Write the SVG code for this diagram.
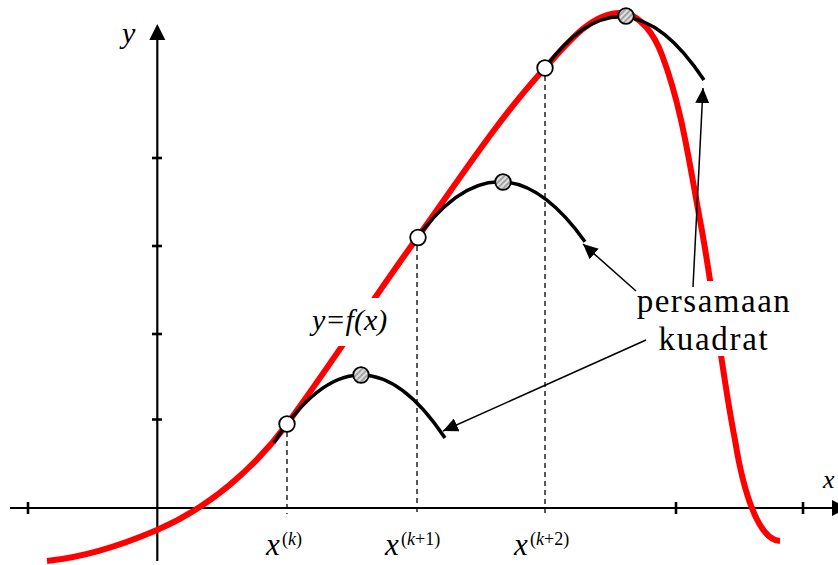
<svg xmlns="http://www.w3.org/2000/svg" width="838" height="565" viewBox="0 0 838 565">
<style>
.axis{stroke:#000;stroke-width:2.2;fill:none}
.tick{stroke:#000;stroke-width:2.6}
.dash{stroke:#000;stroke-width:1.3;stroke-dasharray:5,4;fill:none}
.fx{stroke:#ff0000;stroke-width:6;fill:none}
.quad{stroke:#000;stroke-width:3.5;fill:none}
.open{fill:#fff;stroke:#000;stroke-width:1.8}
.hatch{fill:url(#hp);stroke:#000;stroke-width:1.8}
.lead{stroke:#000;stroke-width:1.5;fill:none;marker-end:url(#ah)}
.lbl{font-family:"Liberation Serif","Times New Roman",serif;fill:#000}
.it{font-style:italic}
</style>
<defs>
<pattern id="hp" width="4" height="4" patternUnits="userSpaceOnUse" patternTransform="rotate(-45)">
<rect width="4" height="4" fill="#e0e0e0"/>
<line x1="0" y1="1" x2="4" y2="1" stroke="#808080" stroke-width="1.3"/>
</pattern>
<marker id="ah" markerUnits="userSpaceOnUse" markerWidth="16" markerHeight="14" refX="15" refY="7" orient="auto">
<path d="M0,0 L15,7 L0,14 z" fill="#000"/>
</marker>
</defs>

<g id="axes">
<line class="axis" x1="10" y1="508" x2="834" y2="508"/>
<polygon points="832,500 848,508 832,516" fill="#000"/>
<line class="axis" x1="157.3" y1="561" x2="157.3" y2="37"/>
<polygon points="157.3,24 149.3,40 165.3,40" fill="#000"/>
<line class="tick" x1="28" y1="502" x2="28" y2="514"/>
<line class="tick" x1="676" y1="502" x2="676" y2="514"/>
<line class="tick" x1="803" y1="502" x2="803" y2="514"/>
<line class="tick" x1="152" y1="158" x2="162" y2="158"/>
<line class="tick" x1="152" y1="246" x2="162" y2="246"/>
<line class="tick" x1="152" y1="334" x2="162" y2="334"/>
<line class="tick" x1="152" y1="419.5" x2="162" y2="419.5"/>
<text class="lbl it" x="122" y="43" font-size="30">y</text>
<text class="lbl it" x="823" y="488" font-size="26">x</text>
</g>

<g id="dashes">
<line class="dash" x1="287" y1="432" x2="287" y2="514"/>
<line class="dash" x1="417" y1="246" x2="417" y2="514"/>
<line class="dash" x1="545" y1="76" x2="545" y2="514"/>
</g>

<g id="xlabels">
<text class="lbl" x="266" y="555" font-size="31"><tspan class="it">x</tspan><tspan x="282" y="545" font-size="18">(<tspan class="it">k</tspan>)</tspan></text>
<text class="lbl" x="385" y="555" font-size="31"><tspan class="it">x</tspan><tspan x="401" y="545" font-size="18">(<tspan class="it">k</tspan>+1)</tspan></text>
<text class="lbl" x="514" y="555" font-size="31"><tspan class="it">x</tspan><tspan x="530" y="545" font-size="18">(<tspan class="it">k</tspan>+2)</tspan></text>
</g>

<g id="curve-f">
<path class="fx" d="M47,561 C84.9,557.2 122,545 157,530 C208.4,507.9 253.8,469.1 287,424 C331.9,363.2 372.6,299.2 417,238 C458.6,180.6 497.1,120.3 545,68 C566.1,44.9 590.7,13 620,13 C641.1,13 655.2,37.1 662,55 C682,107.7 689.5,164.6 700,220 C713.8,293 720.8,367.1 735,440 C743,490 758,540 780,541"/>
</g>

<g id="quad1">
<path class="quad" d="M274,442.7 Q359.5,309.5 445,438"/>
</g>
<g id="quad2">
<path class="quad" d="M413,243.5 Q499,120.9 585,241.8"/>
</g>
<g id="quad3">
<path class="quad" d="M545,68 Q624.5,-40.2 704,80"/>
</g>

<g id="points">
<circle class="open" cx="287" cy="424" r="7.8"/>
<circle class="hatch" cx="361" cy="375" r="7.8"/>
<circle class="open" cx="418" cy="237.5" r="7.8"/>
<circle class="hatch" cx="503" cy="182" r="7.8"/>
<circle class="open" cx="545" cy="68" r="7.8"/>
<circle class="hatch" cx="626" cy="16" r="7.8"/>
</g>

<g id="label-fx">
<rect x="304" y="298" width="94" height="48" fill="#fff"/>
<text class="lbl it" x="312" y="330" font-size="30">y=f(x)</text>
</g>

<g id="label-quad">
<rect x="630" y="281" width="170" height="75" fill="#fff"/>
<text class="lbl" x="714" y="312" font-size="33" text-anchor="middle" letter-spacing="1.5">persamaan</text>
<text class="lbl" x="714" y="350" font-size="33" text-anchor="middle" letter-spacing="1.7">kuadrat</text>
</g>

<g id="connectors">
<line class="lead" x1="636" y1="291" x2="583" y2="244"/>
<line class="lead" x1="693" y1="287" x2="703" y2="88"/>
<line class="lead" x1="646" y1="340" x2="443" y2="431"/>
</g>
</svg>
